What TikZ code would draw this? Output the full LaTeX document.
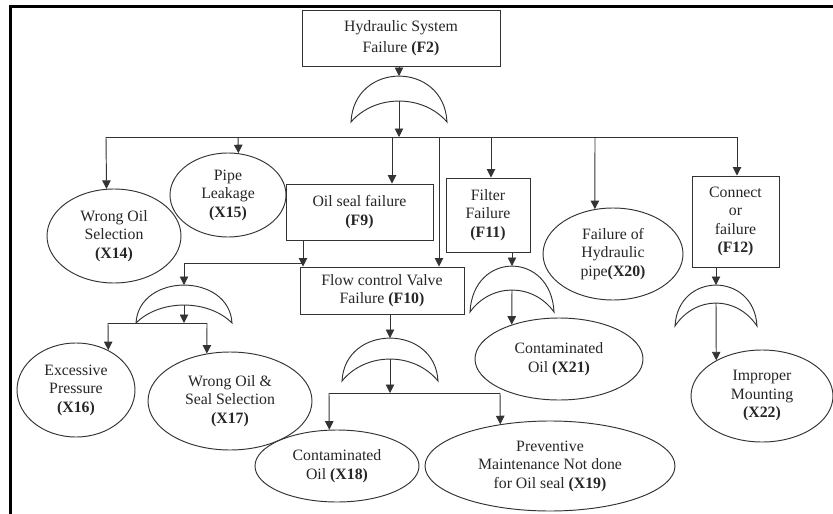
\documentclass[tikz,border=0pt]{standalone}
\usepackage{fontspec}
\setmainfont{Liberation Serif}
\usetikzlibrary{shapes.geometric,arrows.meta}

% OR gate drawn as a crescent: name, centre x, tip y, half width, outer height, inner height
\newcommand{\orgate}[6]{%
  \coordinate (#1-top) at (#2,#3-#5);
  \coordinate (#1-in) at (#2,#3-#6);
  \draw[ink] (#2-#4,#3) .. controls (#2-#4+3,#3-1.33*#5) and (#2+#4-3,#3-1.33*#5) .. (#2+#4,#3)
    .. controls (#2+0.5*#4,#3-1.33*#6) and (#2-0.5*#4,#3-1.33*#6) .. cycle;
}

\begin{document}
\begin{tikzpicture}[x=1pt,y=-1pt,
  ink/.style={draw=black!80, line width=0.95pt},
  txt/.style={align=center, text=black!85, font=\fontsize{15.8}{18.5}\selectfont},
  box/.style={ink, txt, rectangle, fill=white, inner sep=2pt},
  oval/.style={ink, txt, ellipse, fill=white, inner sep=0pt},
  arr/.style={ink, -{Triangle[length=8.5pt,width=8.5pt]}},
  frame/.style={draw=black, line width=3pt}
]
\useasboundingbox (0,0) rectangle (833,514);
\fill[white] (0,0) rectangle (833,514);
\draw[frame] (10,514) -- (10,6.5) -- (833,6.5);

% events
\node[box, minimum width=198pt, minimum height=56pt] (f2) at (401,38)
  {Hydraulic System\\[3pt]Failure \textbf{(F2)}};
\node[oval, minimum width=134pt, minimum height=94pt] (x14) at (114,236)
  {Wrong Oil\\Selection\\\textbf{(X14)}};
\node[oval, minimum width=116pt, minimum height=84pt] (x15) at (228,195)
  {Pipe\\Leakage\\\textbf{(X15)}};
\node[box, minimum width=147pt, minimum height=56pt] (f9) at (359.5,212)
  {Oil seal failure\\\textbf{(F9)}};
\node[box, minimum width=84pt, minimum height=74pt] (f11) at (488,215)
  {Filter\\Failure\\\textbf{(F11)}};
\node[oval, minimum width=140pt, minimum height=92pt] (x20) at (613,254)
  {Failure of\\Hydraulic\\pipe\textbf{(X20)}};
\node[box, minimum width=87pt, minimum height=91pt] (f12) at (735.5,221.5)
  {Connect\\or\\failure\\\textbf{(F12)}};
\node[box, minimum width=164pt, minimum height=47pt] (f10) at (382,290.5)
  {Flow control Valve\\Failure \textbf{(F10)}};
\node[oval, minimum width=118pt, minimum height=94pt] (x16) at (76,390)
  {Excessive\\Pressure\\\textbf{(X16)}};
\node[oval, minimum width=164pt, minimum height=98pt] (x17) at (230,401)
  {Wrong Oil \&\\Seal Selection\\\textbf{(X17)}};
\node[oval, minimum width=164pt, minimum height=72pt] (x18) at (337,466)
  {Contaminated\\Oil \textbf{(X18)}};
\node[oval, minimum width=250pt, minimum height=90pt] (x19) at (550,466)
  {Preventive\\Maintenance Not done\\for Oil seal \textbf{(X19)}};
\node[oval, minimum width=168pt, minimum height=82pt] (x21) at (559,359)
  {Contaminated\\Oil \textbf{(X21)}};
\node[oval, minimum width=142pt, minimum height=92pt] (x22) at (762,396)
  {Improper\\Mounting\\\textbf{(X22)}};

% gates
\orgate{g1}{399}{122}{48}{46}{21}
\orgate{g2}{184}{323}{48}{38}{18}
\orgate{g3}{390}{381}{48}{43}{22}
\orgate{g4}{512}{312}{42}{46}{22}
\orgate{g5}{716}{326}{41}{41}{23}

% top level branch
\coordinate (d14) at (106,137);
\coordinate (d15) at (238,137);
\coordinate (d9)  at (392,137);
\coordinate (d10) at (439,137);
\coordinate (d11) at (491,137);
\coordinate (d20) at (595,137);
\coordinate (d12) at (737,137);
\draw[arr] (g1-top |- f2.south) -- (g1-top);
\draw[arr] (g1-in) -- (g1-in |- d14);
\draw[ink] (d14) -- (d12);
\draw[arr] (d14) -- (x14.99.7);
\draw[arr] (d15) -- (x15.76.4);
\draw[arr] (d9) -- (d9 |- f9.north);
\draw[arr] (d10) -- (d10 |- f10.north);
\draw[arr] (d11) -- (d11 |- f11.north);
\draw[arr] (d20) -- (x20.112);
\draw[arr] (d12) -- (d12 |- f12.north);

% oil seal failure
\coordinate (s9) at (303,263);
\draw[arr] (s9 |- f9.south) -- (s9 |- f10.north);
\draw[arr] (s9) -| (g2-top);
\coordinate (d16) at (108,323);
\coordinate (d17) at (207,323);
\draw[arr] (g2-in) -- (g2-in |- d16);
\draw[ink] (d16) -- (d17);
\draw[arr] (d16) -- (x16.51);
\draw[arr] (d17) -- (x17.116);

% flow control valve failure
\coordinate (d18) at (329,393);
\coordinate (d19) at (500,393);
\draw[arr] (g3-top |- f10.south) -- (g3-top);
\draw[arr] (g3-in) -- (g3-in |- d18);
\draw[ink] (d18) -- (d19);
\draw[arr] (d18) -- (x18.102.6);
\draw[arr] (d19) -- (x19.140.5);

% filter failure
\draw[arr] (g4-top |- f11.south) -- (g4-top);
\draw[arr] (g4-in) -- (x21.144.1);

% connector failure
\draw[arr] (g5-top |- f12.south) -- (g5-top);
\draw[arr] (g5-in) -- (x22.142.7);
\end{tikzpicture}
\end{document}
